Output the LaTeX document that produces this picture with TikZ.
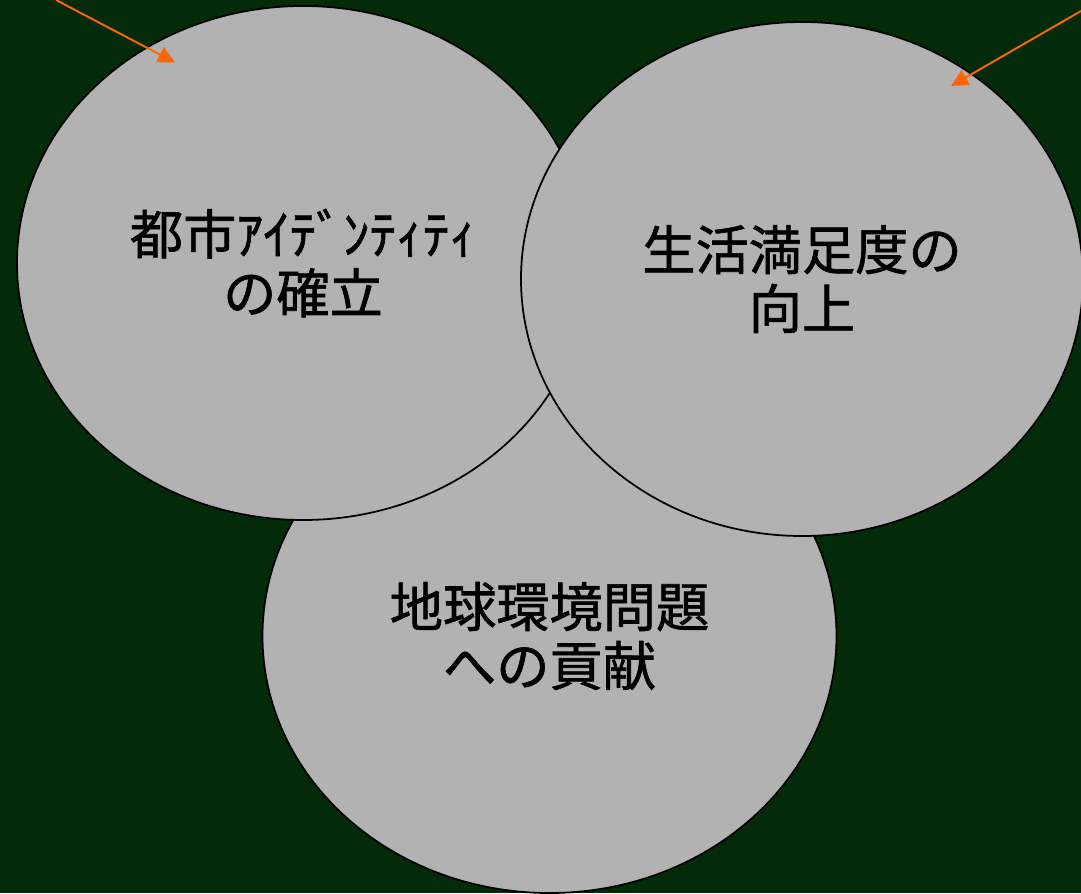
\documentclass[tikz,border=0pt]{standalone}
\usepackage{fontspec}
\setmainfont{Noto Sans CJK JP}[RawFeature={embolden=1.2}]
\usetikzlibrary{arrows.meta,shapes.geometric}
\definecolor{bg}{RGB}{3,43,9}
\definecolor{disc}{RGB}{178,178,178}
\definecolor{arr}{RGB}{255,102,0}
\tikzset{
  blob/.style={ellipse, draw=black, line width=1pt, fill=disc, inner sep=0pt,
    align=center, font=\fontsize{30.3}{33.5}\selectfont},
  pointer/.style={draw=arr, line width=1.1pt, -{Triangle[length=0.34cm,width=0.33cm]}}
}
\begin{document}
\begin{tikzpicture}
\fill[bg] (0,0) rectangle (21.62,-17.86);
\useasboundingbox (0,0) rectangle (21.62,-17.86);
\node[blob, minimum width=11.48cm, minimum height=10.28cm] (earth) at (10.99,-12.72) {地球環境問題\\への貢献};
\node[blob, minimum width=11.44cm, minimum height=10.28cm] (city) at (6.06,-5.26) {都市ｱｲﾃﾞﾝﾃｨﾃｨ\\の確立};
\node[blob, minimum width=11.24cm, minimum height=10.28cm] (life) at (16.04,-5.58) {生活満足度の\\向上};
\coordinate (s1) at (1.12,0);
\coordinate (t1) at (3.5,-1.25);
\coordinate (s2) at (21.62,-0.22);
\coordinate (t2) at (19.02,-1.72);
\draw[pointer] (s1) -- (t1);
\draw[pointer] (s2) -- (t2);
\end{tikzpicture}
\end{document}
